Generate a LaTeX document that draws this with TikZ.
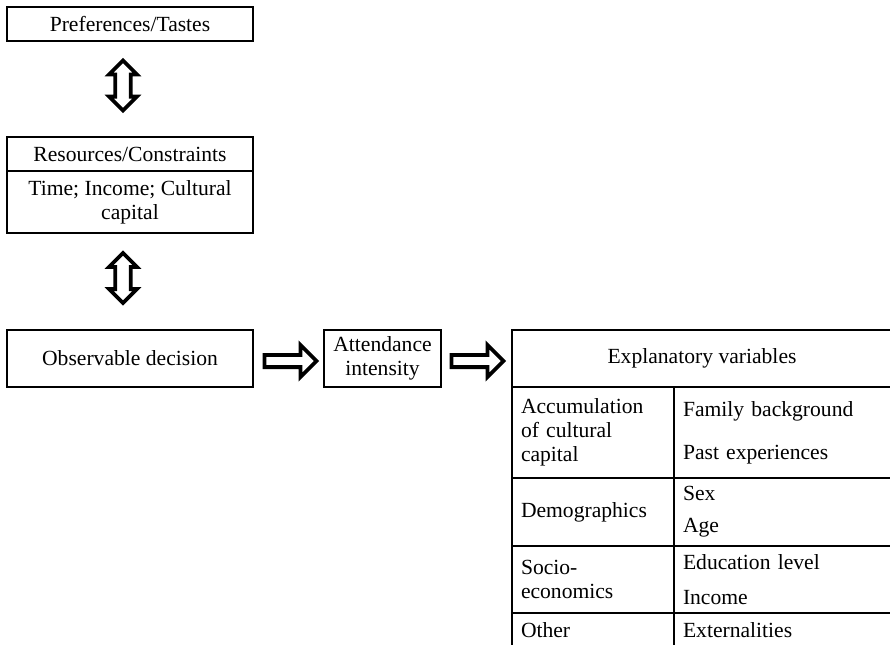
\documentclass[tikz,border=0pt]{standalone}
\usepackage{fontspec}
\setmainfont{Liberation Serif}
\usetikzlibrary{positioning,calc,shapes.arrows}

\begin{document}
\begin{tikzpicture}[x=0.5pt, y=-0.5pt,
  font=\fontsize{10.8}{12}\selectfont,
  box/.style={draw, line width=1pt, align=center, inner sep=2pt, outer sep=0pt,
              minimum width=123pt},
  cell/.style 2 args={draw, line width=1pt, anchor=north west, align=left,
              inner xsep=4.5pt, inner ysep=0pt, outer sep=0pt,
              text width=#1, minimum height=#2},
  harrow/.style={single arrow, draw, line width=1.9pt, fill=white, inner sep=2.1pt,
              single arrow head extend=5pt, minimum height=26pt},
  varrow/.style={double arrow, draw, line width=1.9pt, fill=white, inner sep=2.9pt,
              double arrow head extend=3.1pt, minimum height=25pt, rotate=90},
]
\useasboundingbox (0,0) rectangle (890,644);

% left column: tastes, constraints, decision
\node[box, minimum height=17pt] (pref) at (130,24) {Preferences/Tastes};
\node[box, minimum height=17pt] (rescap) at (130,154) {Resources/Constraints};
\node[box, minimum height=31pt, below=0pt of rescap] (resbody) {Time; Income; Cultural\\capital};
\node[box, minimum height=28.5pt] (dec) at (130,358.5) {Observable decision};

% middle and right boxes
\node[box, minimum width=58.5pt, minimum height=28.5pt] (att) at (382.5,358.5) {Attendance\\intensity};
\node[box, minimum width=190pt, minimum height=28.5pt] (expl) at (702,358.5) {Explanatory variables};

% --- table of explanatory variables ---
\node[cell={72pt}{45.5pt}] (accum) at (expl.south west) {Accumulation\\of cultural\\capital};
\node[cell={100pt}{45.5pt}] (family) at (accum.north east) {Family background\\[9.5pt]Past experiences};
\node[cell={72pt}{34pt}] (demo) at (accum.south west) {Demographics};
\node[cell={100pt}{34pt}] (sexage) at (demo.north east) {Sex\\[4pt]Age};
\node[cell={72pt}{33.5pt}] (socio) at (demo.south west) {Socio-\\economics};
\node[cell={100pt}{33.5pt}] (eduinc) at (socio.north east) {Education level\\[5.5pt]Income};
\node[cell={72pt}{17pt}] (other) at (socio.south west) {Other};
\node[cell={100pt}{17pt}] (extern) at (other.north east) {Externalities};

% hollow block arrows
\node[varrow] (prefres) at ($(pref.south)!0.5!(rescap.north)+(-7,-3.5)$) {};
\node[varrow] (resdec) at ($(resbody.south)!0.5!(dec.north)+(-7,-3.5)$) {};
\node[harrow] (decatt) at ($(dec.east)!0.5!(att.west)+(-1,2.5)$) {};
\node[harrow] (attexpl) at ($(att.east)!0.5!(expl.west)+(-2,2.5)$) {};
\end{tikzpicture}
\end{document}
